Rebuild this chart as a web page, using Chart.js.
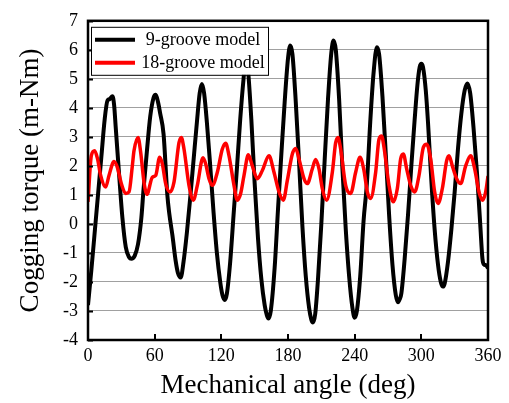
<!DOCTYPE html>
<html>
<head>
<meta charset="utf-8">
<script src="https://cdn.jsdelivr.net/npm/chart.js@4"></script>
<style>
  html, body { margin: 0; padding: 0; background: #fff; }
  #wrap { width: 509px; height: 403px; position: relative; }
</style>
</head>
<body>
<div id="wrap"><canvas id="chart" width="509" height="403"></canvas></div>
<script>
/* ── data ──────────────────────────────────────────────────── */
const angles9 = [0, 3, 6, 9, 12, 15, 17.5, 19.5, 22, 23.5, 25, 28, 31, 34, 37, 39, 42, 45, 48, 50, 53, 56, 59, 61, 63, 65, 68, 71.4, 73, 76, 79, 81, 83.4, 86, 89, 92, 95, 98, 100.5, 102.5, 104.5, 107, 110, 113, 116, 119, 121, 123, 125, 128, 131, 134, 137, 140, 142, 144, 147, 150, 153, 156, 159, 161, 162.5, 164.5, 168, 171, 174, 177, 180, 182, 184, 187, 190, 193, 196, 199, 201, 202.5, 204.5, 207, 210, 213, 216, 219, 221, 223, 226, 229, 232, 235, 238, 240, 242, 245, 248, 251, 254, 257, 260, 262, 265, 268, 271, 274, 277, 279, 280.5, 282, 285, 288, 291, 294, 296.5, 298.5, 300, 301.5, 304, 306, 309, 312, 315, 317.5, 319.5, 321, 324, 327, 330, 333, 336, 339, 341.5, 344, 347, 350, 353, 355, 356.5, 358, 360];
const torque9 = [-2.8, -1.6, -0.3, 1.0, 2.3, 3.6, 4.25, 4.3, 4.4, 4.1, 3.3, 1.7, 0.2, -0.8, -1.15, -1.2, -1.1, -0.7, 0.2, 1.2, 2.5, 3.7, 4.35, 4.45, 4.2, 3.8, 3.1, 1.0, 0.4, -0.4, -1.3, -1.7, -1.85, -1.3, -0.3, 0.9, 2.2, 3.5, 4.5, 4.82, 4.5, 3.5, 2.0, 0.4, -1.0, -2.0, -2.45, -2.62, -2.4, -1.3, 0.3, 1.9, 3.6, 5.0, 5.7, 5.3, 3.6, 1.4, -0.5, -1.9, -2.8, -3.15, -3.26, -3.0, -1.5, 0.5, 2.4, 4.2, 5.7, 6.15, 5.85, 4.2, 2.1, -0.1, -1.8, -2.9, -3.3, -3.4, -3.1, -1.9, 0.0, 2.2, 4.3, 5.9, 6.32, 6.0, 4.3, 1.9, -0.2, -1.8, -2.9, -3.23, -3.0, -1.8, 0.1, 1.4, 3.5, 5.2, 6.09, 5.85, 4.4, 2.4, 0.3, -1.4, -2.45, -2.7, -2.6, -2.4, -1.2, 0.3, 2.0, 3.6, 4.8, 5.4, 5.52, 5.4, 4.6, 3.5, 1.5, -0.2, -1.4, -2.0, -2.16, -2.05, -1.3, -0.2, 1.1, 2.6, 3.8, 4.6, 4.84, 4.5, 3.3, 1.8, 0.0, -1.2, -1.4, -1.42, -1.52];

const angles18 = [0, 3, 6, 8.6, 11.4, 15.9, 18.9, 23.4, 26.4, 30, 33.9, 36.9, 39.9, 41.4, 45, 47.4, 50.4, 53, 57.9, 60.9, 64.5, 66.9, 69.9, 73.8, 77.4, 81.9, 84, 86.4, 90.9, 94.8, 98.4, 103.5, 105.9, 108.9, 111.9, 116.4, 120.9, 123.9, 126.9, 131.4, 134.4, 137.4, 140.4, 144.3, 147.9, 152.4, 156.9, 162.9, 167.4, 171.9, 175.8, 179.4, 183.9, 186.9, 189.9, 194.4, 197.4, 201.9, 204.9, 207.9, 210.9, 214.8, 219.9, 222.9, 225, 227.4, 231.9, 236.4, 240.9, 244.8, 248.4, 251.4, 254.4, 258.9, 261.9, 264.3, 266.4, 270.9, 274.8, 278.4, 281.4, 283.8, 286.8, 290.4, 294, 297.9, 301.8, 304.8, 308.4, 312, 315, 318.9, 322.8, 324.9, 327.9, 331.8, 335.4, 339.9, 344.4, 348, 351.9, 354.9, 357.9, 360];
const torque18 = [0.76, 2.35, 2.52, 2.24, 1.67, 1.27, 1.67, 2.15, 1.95, 1.39, 1.05, 1.1, 2.0, 2.52, 2.98, 2.47, 1.44, 1.02, 1.61, 1.67, 2.3, 2.07, 1.39, 1.1, 1.44, 2.8, 2.98, 2.58, 1.33, 0.82, 1.33, 2.28, 2.07, 1.56, 1.33, 1.78, 2.58, 2.78, 2.35, 1.33, 0.82, 1.05, 1.67, 2.38, 2.0, 1.56, 1.84, 2.35, 1.78, 1.1, 0.82, 1.5, 2.41, 2.6, 2.24, 1.56, 1.39, 1.9, 2.22, 1.9, 1.22, 0.82, 1.78, 2.8, 2.98, 2.58, 1.33, 1.05, 1.78, 2.3, 1.84, 1.1, 0.88, 1.78, 2.92, 3.03, 2.64, 1.33, 0.76, 1.22, 2.24, 2.41, 1.9, 1.33, 1.1, 1.67, 2.64, 2.75, 2.24, 1.1, 0.7, 1.22, 2.18, 2.35, 2.0, 1.56, 1.39, 2.0, 2.35, 1.9, 1.1, 0.82, 1.1, 1.65];

const seriesNames = ['9-groove model', '18-groove model'];
const seriesColors = ['#000000', '#ff0000'];
const xTicks = [0, 60, 120, 180, 240, 300, 360];
const yTicks = [-4, -3, -2, -1, 0, 1, 2, 3, 4, 5, 6, 7];

const FONT = "'Liberation Serif', 'Times New Roman', serif";

/* ── frame, inward ticks, legend box ───────────────────────── */
const frameAndLegend = {
  id: 'frameAndLegend',
  afterDatasetsDraw(chart) {
    const { ctx, chartArea: a, scales } = chart;
    ctx.save();

    // inward tick marks
    ctx.strokeStyle = '#000';
    ctx.lineWidth = 2;
    ctx.beginPath();
    xTicks.forEach(v => {
      const px = Math.round(scales.x.getPixelForValue(v));
      ctx.moveTo(px, a.bottom);
      ctx.lineTo(px, a.bottom - 6);
    });
    yTicks.forEach(v => {
      const py = Math.round(scales.y.getPixelForValue(v)) + 0.5;
      ctx.moveTo(a.left, py);
      ctx.lineTo(a.left + 5, py);
    });
    ctx.stroke();

    // legend
    const lx = a.left + 3, ly = a.top + 6, lw = 177, lh = 48;
    ctx.fillStyle = '#fff';
    ctx.fillRect(lx, ly, lw, lh);
    ctx.lineWidth = 1;
    ctx.strokeStyle = '#000';
    ctx.strokeRect(lx + 0.5, ly + 0.5, lw, lh);
    ctx.font = '18px ' + FONT;
    ctx.textBaseline = 'middle';
    ctx.textAlign = 'center';
    seriesNames.forEach((name, i) => {
      const yy = ly + 13 + i * 23;
      ctx.strokeStyle = seriesColors[i];
      ctx.lineWidth = 4;
      ctx.beginPath();
      ctx.moveTo(lx + 4, yy);
      ctx.lineTo(lx + 44, yy);
      ctx.stroke();
      ctx.fillStyle = '#000';
      ctx.fillText(name, lx + 112, yy);
    });

    // plot frame
    ctx.lineWidth = 2.5;
    ctx.strokeStyle = '#000';
    ctx.strokeRect(a.left, a.top, a.right - a.left, a.bottom - a.top);
    ctx.restore();
  }
};

const toPoints = (xs, ys) => xs.map((x, i) => ({ x, y: ys[i] }));

new Chart(document.getElementById('chart'), {
  type: 'line',
  data: {
    datasets: [
      {
        label: seriesNames[0],
        data: toPoints(angles9, torque9),
        borderColor: seriesColors[0],
        borderWidth: 4,
        pointRadius: 0,
        cubicInterpolationMode: 'monotone',
        order: 1,
      },
      {
        label: seriesNames[1],
        data: toPoints(angles18, torque18),
        borderColor: seriesColors[1],
        borderWidth: 3.5,
        pointRadius: 0,
        cubicInterpolationMode: 'monotone',
        order: 0,
      },
    ],
  },
  options: {
    responsive: false,
    animation: false,
    devicePixelRatio: 1,
    layout: { padding: { top: 16, right: 21, left: 15, bottom: 1 } },
    plugins: { legend: { display: false }, tooltip: { enabled: false } },
    scales: {
      x: {
        type: 'linear',
        min: 0,
        max: 360,
        afterBuildTicks: s => { s.ticks = xTicks.map(v => ({ value: v })); },
        afterFit: s => { s.height = 62; },
        grid: { display: false, drawTicks: false },
        border: { display: false },
        ticks: { color: '#000', font: { family: FONT, size: 18 }, padding: 5, maxRotation: 0 },
        title: { display: true, text: 'Mechanical angle (deg)', color: '#000', font: { family: FONT, size: 27 }, padding: { top: 2, bottom: 0 } },
      },
      y: {
        min: -4,
        max: 7,
        afterBuildTicks: s => { s.ticks = yTicks.map(v => ({ value: v })); },
        afterFit: s => { s.width = 73; },
        grid: { color: '#a0a0a0', lineWidth: 1, drawTicks: false },
        border: { display: false },
        ticks: { color: '#000', font: { family: FONT, size: 18 }, padding: 10 },
        title: { display: true, text: 'Cogging torque (m-Nm)', color: '#000', font: { family: FONT, size: 27 }, padding: { top: 0, bottom: 4 } },
      },
    },
  },
  plugins: [frameAndLegend],
});
</script>
</body>
</html>
